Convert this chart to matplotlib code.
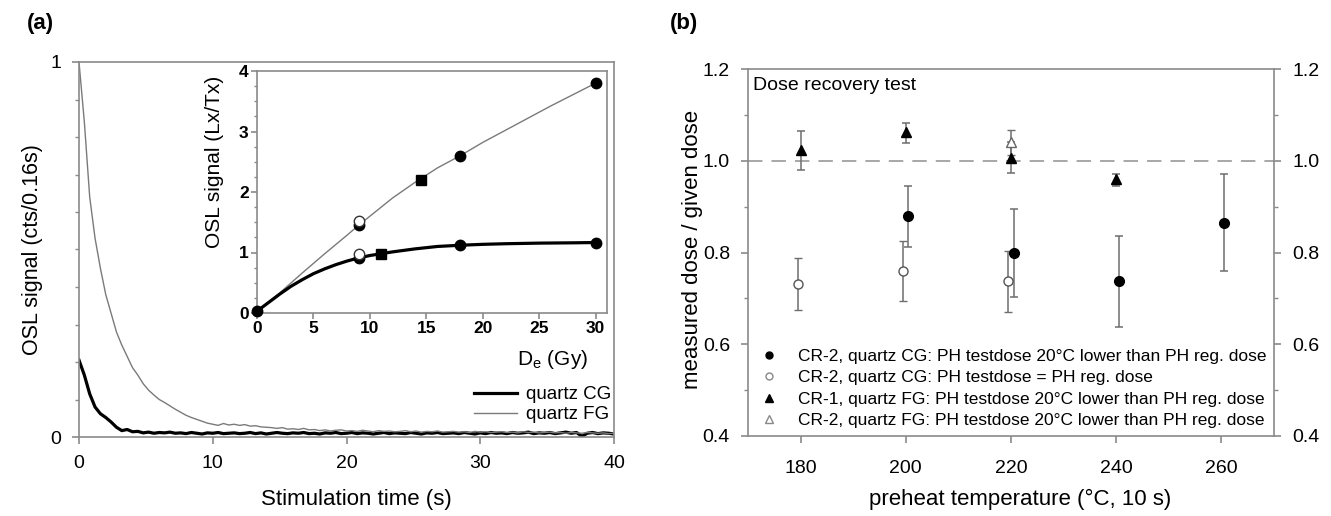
import matplotlib
matplotlib.use("Agg")
import matplotlib.pyplot as plt
import numpy as np
from matplotlib.lines import Line2D
from matplotlib.ticker import MultipleLocator, FormatStrFormatter

plt.rcParams['font.family'] = ['Liberation Sans', 'DejaVu Sans']

# ---- panel (a): OSL decay curves, channels every 0.4 s ----
stim_time = np.round(np.arange(0, 40.01, 0.4), 2)
osl_fg = [1.000, 0.840, 0.640, 0.530, 0.450, 0.380, 0.330, 0.280, 0.245, 0.215,
          0.185, 0.165, 0.142, 0.125, 0.112, 0.100, 0.092, 0.083, 0.074, 0.066,
          0.058, 0.052, 0.047, 0.042, 0.037, 0.034, 0.031, 0.036, 0.032, 0.034,
          0.031, 0.033, 0.029, 0.030, 0.027, 0.026, 0.025, 0.023, 0.025, 0.021,
          0.022, 0.020, 0.023, 0.019, 0.020, 0.017, 0.019, 0.016, 0.018, 0.019,
          0.016, 0.017, 0.015, 0.018, 0.016, 0.014, 0.017, 0.015, 0.016, 0.014,
          0.015, 0.017, 0.014, 0.016, 0.013, 0.015, 0.014, 0.016, 0.013, 0.014,
          0.015, 0.013, 0.014, 0.012, 0.015, 0.013, 0.014, 0.012, 0.013, 0.014,
          0.012, 0.013, 0.011, 0.014, 0.012, 0.013, 0.011, 0.012, 0.013, 0.011,
          0.012, 0.010, 0.012, 0.011, 0.010, 0.012, 0.011, 0.010, 0.011, 0.009, 0.010]
osl_cg = [0.205, 0.165, 0.115, 0.080, 0.062, 0.052, 0.040, 0.026, 0.017, 0.020,
          0.014, 0.015, 0.011, 0.013, 0.010, 0.012, 0.011, 0.013, 0.010, 0.011,
          0.009, 0.012, 0.010, 0.008, 0.011, 0.010, 0.012, 0.009, 0.010, 0.011,
          0.009, 0.010, 0.012, 0.009, 0.011, 0.008, 0.010, 0.012, 0.010, 0.009,
          0.011, 0.010, 0.012, 0.009, 0.010, 0.008, 0.011, 0.010, 0.012, 0.009,
          0.010, 0.012, 0.009, 0.011, 0.010, 0.008, 0.010, 0.012, 0.009, 0.011,
          0.010, 0.009, 0.012, 0.010, 0.008, 0.011, 0.010, 0.012, 0.009, 0.010,
          0.011, 0.009, 0.012, 0.010, 0.008, 0.011, 0.009, 0.012, 0.010, 0.011,
          0.009, 0.012, 0.010, 0.011, 0.013, 0.009, 0.011, 0.010, 0.012, 0.009,
          0.011, 0.013, 0.010, 0.012, 0.002, 0.010, 0.012, 0.009, 0.011, 0.010, 0.008]

# inset: dose response curves
fit_fg_dose = [0, 2, 4, 6, 8, 9, 10, 12, 14, 16, 18, 20, 22, 24, 26, 28, 30]
fit_fg_sig = [0.03, 0.33, 0.66, 0.98, 1.29, 1.45, 1.60, 1.90, 2.16, 2.40, 2.60,
              2.82, 3.02, 3.22, 3.42, 3.61, 3.80]
fit_cg_dose = [0, 1, 2, 3, 4, 5, 6, 7, 8, 9, 10, 12, 14, 16, 18, 20, 22, 25, 28, 30]
fit_cg_sig = [0.03, 0.17, 0.31, 0.44, 0.55, 0.65, 0.73, 0.80, 0.86, 0.91, 0.95,
              1.01, 1.06, 1.10, 1.12, 1.135, 1.145, 1.155, 1.16, 1.165]
# inset: measured points
reg_dose = [0, 9, 18, 30, 9, 18, 30]
reg_sig = [0.03, 1.45, 2.60, 3.80, 0.91, 1.13, 1.16]
recyc_dose = [9, 9]
recyc_sig = [1.52, 0.97]
nat_dose = [14.5, 11]
nat_sig = [2.20, 0.98]

# ---- panel (b): dose recovery ----
fc_temp = [200.5, 220.5, 240.5, 260.5]
fc_ratio = [0.879, 0.799, 0.738, 0.865]
fc_lo = [0.812, 0.703, 0.638, 0.759]
fc_hi = [0.944, 0.895, 0.835, 0.971]

oc_temp = [179.5, 199.5, 219.5]
oc_ratio = [0.732, 0.759, 0.738]
oc_lo = [0.675, 0.694, 0.670]
oc_hi = [0.788, 0.824, 0.803]

ft_temp = [180, 200, 220, 240]
ft_ratio = [1.024, 1.063, 1.007, 0.960]
ft_lo = [0.980, 1.039, 0.974, 0.944]
ft_hi = [1.064, 1.083, 1.040, 0.972]

ot_temp = [220]
ot_ratio = [1.040]
ot_lo = [1.013]
ot_hi = [1.067]

legend_labels = ["CR-2, quartz CG: PH testdose 20°C lower than PH reg. dose",
                 "CR-2, quartz CG: PH testdose = PH reg. dose",
                 "CR-1, quartz FG: PH testdose 20°C lower than PH reg. dose",
                 "CR-2, quartz FG: PH testdose 20°C lower than PH reg. dose"]

SPINE = '#8a8a8a'
W, H = 1331, 516


def px_axes(left, top, right, bottom):
    return [left / W, (H - bottom) / H, (right - left) / W, (bottom - top) / H]


def grey_frame(ax):
    for s in ax.spines.values():
        s.set_color(SPINE)
        s.set_linewidth(1.2)
    ax.tick_params(which='both', color=SPINE, direction='out')


fig = plt.figure(figsize=(W / 100, H / 100), dpi=100)

# ---------------- (a) ----------------
ax = fig.add_axes(px_axes(79, 62, 614, 437))
grey_frame(ax)
ax.plot(stim_time, osl_cg, color='black', lw=2.3, label='quartz CG')
ax.plot(stim_time, osl_fg, color='#7a7a7a', lw=1.0, label='quartz FG')
ax.set_xlim(0, 40)
ax.set_ylim(0, 1)
ax.set_xticks([0, 10, 20, 30, 40])
ax.set_yticks([0, 1])
ax.yaxis.set_minor_locator(MultipleLocator(0.1))
ax.yaxis.set_major_formatter(FormatStrFormatter('%g'))
ax.tick_params(which='major', length=5, width=1.2, labelsize=14, pad=8)
ax.tick_params(which='minor', length=3, width=1)
ax.set_xlabel('Stimulation time (s)', fontsize=16)
ax.xaxis.set_label_coords(0.518, -0.138)
ax.set_ylabel('OSL signal (cts/0.16s)', fontsize=15.5)
ax.yaxis.set_label_coords(-0.068, 0.5)
ax.legend(loc='upper left', bbox_to_anchor=(0.738, 0.136), frameon=False,
          fontsize=13.5, handlelength=2.3, handletextpad=0.5, borderpad=0,
          borderaxespad=0, labelspacing=0.15)
fig.text(27 / W, 1 - 23 / H, '(a)', fontsize=16, fontweight='bold', va='center')

# inset
axi = fig.add_axes(px_axes(257, 71, 607, 313))
grey_frame(axi)
axi.plot(fit_fg_dose, fit_fg_sig, color='#7a7a7a', lw=1.0)
axi.plot(fit_cg_dose, fit_cg_sig, color='black', lw=2.3)
axi.plot(reg_dose, reg_sig, ls='none', marker='o', ms=7.5, color='black',
         clip_on=False, zorder=5)
axi.plot(recyc_dose, recyc_sig, ls='none', marker='o', ms=7.5, mfc='white',
         mec='#333333', mew=1.0, clip_on=False, zorder=6)
axi.plot(nat_dose, nat_sig, ls='none', marker='s', ms=7, color='black', zorder=5)
axi.set_xlim(0, 31)
axi.set_ylim(0, 4)
axi.set_xticks([0, 5, 10, 15, 20, 25, 30])
axi.set_yticks([0, 1, 2, 3, 4])
axi.yaxis.set_minor_locator(MultipleLocator(0.25))
axi.tick_params(which='major', length=4, width=1.2, labelsize=12.5, pad=2)
axi.tick_params(which='minor', length=2.5, width=1)
for lab in axi.get_xticklabels() + axi.get_yticklabels():
    lab.set_fontweight('bold')
axi.set_ylabel('OSL signal (Lx/Tx)', fontsize=15)
axi.yaxis.set_label_coords(-0.093, 0.623)
axi.text(0.946, -0.194, 'D$_\\mathregular{e}$ (Gy)', transform=axi.transAxes,
         ha='right', va='center', fontsize=15)

# ---------------- (b) ----------------
bx = fig.add_axes(px_axes(748, 69, 1274, 436))
grey_frame(bx)
bx.axhline(1.0, color='#a0a0a0', lw=1.3, dashes=(8, 5), zorder=1)

err_kw = dict(ls='none', ecolor='#6e6e6e', elinewidth=1.1, capsize=3,
              capthick=1.1, zorder=3)
bx.errorbar(oc_temp, oc_ratio,
            yerr=[np.subtract(oc_ratio, oc_lo), np.subtract(oc_hi, oc_ratio)],
            marker='o', ms=6.5, mfc='white', mec='#555555', mew=1.0, **err_kw)
bx.errorbar(fc_temp, fc_ratio,
            yerr=[np.subtract(fc_ratio, fc_lo), np.subtract(fc_hi, fc_ratio)],
            marker='o', ms=7, color='black', **err_kw)
bx.errorbar(ot_temp, ot_ratio,
            yerr=[np.subtract(ot_ratio, ot_lo), np.subtract(ot_hi, ot_ratio)],
            marker='^', ms=7.5, mfc='white', mec='#666666', mew=1.0, **err_kw)
bx.errorbar(ft_temp, ft_ratio,
            yerr=[np.subtract(ft_ratio, ft_lo), np.subtract(ft_hi, ft_ratio)],
            marker='^', ms=7.5, color='black', **err_kw)

bx.set_xlim(170, 270)
bx.set_ylim(0.4, 1.2)
bx.set_xticks([180, 200, 220, 240, 260])
bx.set_yticks([0.4, 0.6, 0.8, 1.0, 1.2])
bx.yaxis.set_minor_locator(MultipleLocator(0.1))
bx.yaxis.set_major_formatter(FormatStrFormatter('%.1f'))
bx.tick_params(axis='y', which='both', left=True, right=True, labelleft=True,
               labelright=True)
bx.tick_params(axis='y', which='major', pad=8)
bx.tick_params(axis='x', which='major', pad=12)
bx.tick_params(which='major', length=5, width=1.2, labelsize=14)
bx.tick_params(which='minor', length=3, width=1)
bx.set_xlabel('preheat temperature (°C, 10 s)', fontsize=16)
bx.xaxis.set_label_coords(0.517, -0.145)
bx.set_ylabel('measured dose / given dose', fontsize=16)
bx.yaxis.set_label_coords(-0.085, 0.507)
bx.text(0.01, 0.955, 'Dose recovery test', transform=bx.transAxes,
        ha='left', va='center', fontsize=14)

handles = [Line2D([], [], ls='none', marker='o', ms=5, color='black'),
           Line2D([], [], ls='none', marker='o', ms=5, mfc='white', mec='#888888'),
           Line2D([], [], ls='none', marker='^', ms=6, color='black'),
           Line2D([], [], ls='none', marker='^', ms=6, mfc='white', mec='#888888')]
bx.legend(handles, legend_labels, loc='upper left', bbox_to_anchor=(0.023, 0.237),
          frameon=False, fontsize=12.5, handlelength=1.0, handletextpad=1.2,
          borderpad=0, borderaxespad=0, labelspacing=0.35)
fig.text(670 / W, 1 - 23 / H, '(b)', fontsize=16, fontweight='bold', va='center')

fig.savefig('out.png', dpi=100)
